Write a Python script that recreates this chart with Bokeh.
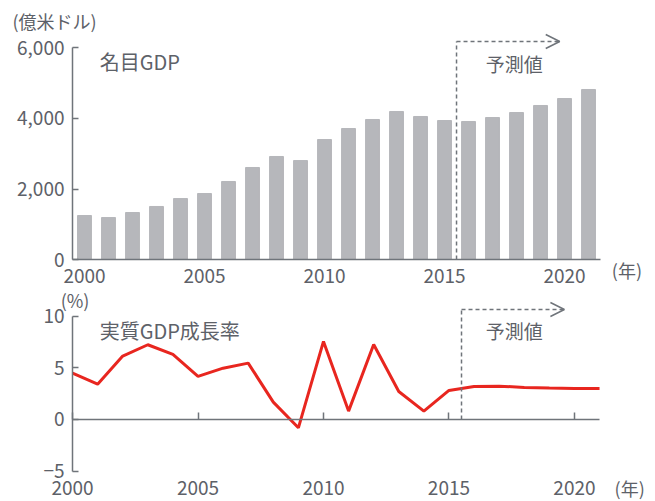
from bokeh.plotting import figure
from bokeh.models import (Range1d, LinearAxis, FixedTicker, NumeralTickFormatter,
                          Label, Arrow, OpenHead)
from bokeh.embed import file_html
from bokeh.resources import INLINE

# ---------------- data ----------------
years = list(range(2000, 2022))
nominal_gdp = [1248, 1191, 1333, 1504, 1730, 1872, 2213, 2610, 2922, 2808, 3404,
               3716, 3972, 4199, 4057, 3943, 3915, 4028, 4170, 4369, 4567, 4823]
real_growth = [4.49, 3.42, 6.14, 7.24, 6.30, 4.17, 4.97, 5.46, 1.68, -0.81, 7.56,
               0.81, 7.27, 2.71, 0.81, 2.81, 3.20, 3.23, 3.10, 3.04, 3.00, 3.00]
x_ticks = [2000, 2005, 2010, 2015, 2020]
top_y_ticks = [0, 2000, 4000, 6000]
bot_y_ticks = [-5, 0, 5, 10]
forecast_start = 2015.5
top_title = "名目GDP"
bot_title = "実質GDP成長率"
forecast_label = "予測値"
top_unit = "(億米ドル)"
bot_unit = "(%)"
year_unit = "(年)"

FONT = "Noto Sans CJK JP"
AXIS_C = "#6f747a"
TEXT_C = "#5d6168"
BAR_C = "#b6b7bb"
RED = "#e8261f"
TICK_FS = "19px"

# One canvas holding both panels: the top panel uses the default ranges,
# the bottom panel uses the extra ranges "bx"/"by".
p = figure(width=655, height=501, x_range=Range1d(1996.5, 2023.79),
           y_range=Range1d(-6865.2, 7347.5), output_backend="svg",
           toolbar_location=None, x_axis_type=None, y_axis_type=None,
           min_border=0)
p.extra_x_ranges = {"bx": Range1d(1997.13, 2023.23)}
p.extra_y_ranges = {"by": Range1d(-7.95, 40.6)}
p.outline_line_color = None
p.background_fill_color = "white"
p.border_fill_color = "white"

TOP = dict(x_range_name="default", y_range_name="default")
BOT = dict(x_range_name="bx", y_range_name="by")


def make_axis(ticks, loc, bounds, names):
    ax = LinearAxis(fixed_location=loc, bounds=bounds, **names)
    ax.ticker = FixedTicker(ticks=ticks)
    ax.axis_line_color = AXIS_C
    ax.axis_line_width = 1.5
    ax.major_tick_line_color = AXIS_C
    ax.major_tick_line_width = 1.5
    ax.minor_tick_line_color = None
    ax.major_tick_out = 0
    ax.major_tick_in = 0
    ax.major_label_text_font = FONT
    ax.major_label_text_font_size = TICK_FS
    ax.major_label_text_color = TEXT_C
    return ax


def label(x, y, text, names, size="19px", align="left"):
    p.add_layout(Label(x=x, y=y, text=text, text_font=FONT, text_font_size=size,
                       text_color=TEXT_C, text_baseline="middle", text_align=align,
                       **names))


def forecast_marker(top_y, end_x, names):
    p.segment(x0=[forecast_start], y0=[0], x1=[forecast_start], y1=[top_y],
              line_color=AXIS_C, line_width=1.5, line_dash="4 3", **names)
    p.add_layout(Arrow(end=OpenHead(size=14, line_color=AXIS_C, line_width=1.5),
                       x_start=forecast_start, y_start=top_y,
                       x_end=end_x, y_end=top_y,
                       line_color=AXIS_C, line_width=1.5, line_dash="4 3", **names))


# ---------------- top: nominal GDP ----------------
p.vbar(x=years, top=nominal_gdp, width=0.58, color=BAR_C)

xa1 = make_axis(x_ticks, 0, (1999.5, 2021.5), TOP)
xa1.major_label_standoff = 9
p.add_layout(xa1, "below")

ya1 = make_axis(top_y_ticks, 1999.5, (0, 6000), TOP)
ya1.formatter = NumeralTickFormatter(format="0,0")
ya1.major_tick_in = 6
ya1.major_label_standoff = 8
p.add_layout(ya1, "left")

forecast_marker(6184, 2019.8, TOP)

label(2000.63, 5617, top_title, TOP, size="20px")
label(2017.9, 5560, forecast_label, TOP, size="19px", align="center")
label(1997.0, 6780, top_unit, TOP, size="18px")
label(2022.6, -312, year_unit, TOP, size="18px", align="center")

# ---------------- bottom: real GDP growth ----------------
xa2 = make_axis(x_ticks, -5, (2000, 2021), BOT)
xa2.axis_line_color = None
xa2.major_tick_line_color = None
xa2.major_label_standoff = 10
p.add_layout(xa2, "below")

za = make_axis(x_ticks, 0, (2000, 2021), BOT)
za.major_tick_in = 7
za.major_label_overrides = {t: "" for t in x_ticks}
p.add_layout(za, "below")

ya2 = make_axis(bot_y_ticks, 2000, (-5, 10), BOT)
ya2.major_tick_in = 6
ya2.major_label_standoff = 8
p.add_layout(ya2, "left")

p.line(x=years, y=real_growth, line_color=RED, line_width=3, **BOT)

forecast_marker(10.66, 2019.6, BOT)

label(2001.08, 8.62, bot_title, BOT, size="20px")
label(2017.6, 8.62, forecast_label, BOT, size="19px", align="center")
label(2000.1, 11.53, bot_unit, BOT, size="18px", align="center")
label(2022.2, -6.69, year_unit, BOT, size="18px", align="center")

open("out.html", "w").write(file_html(p, INLINE))
